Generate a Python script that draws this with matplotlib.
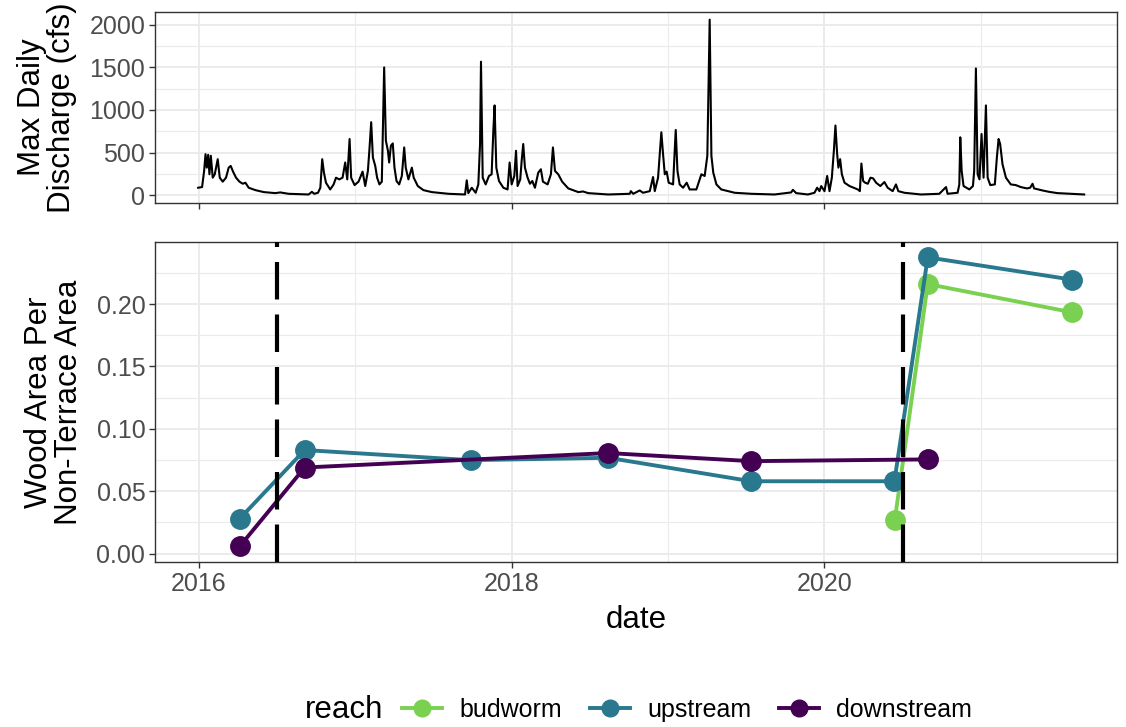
import matplotlib
matplotlib.use("Agg")
import matplotlib.pyplot as plt
from matplotlib.lines import Line2D
from matplotlib.ticker import MultipleLocator

plt.rcParams['font.family'] = ['Liberation Sans', 'DejaVu Sans']

# ---- Discharge (decimal year, cfs) ----
q_year = [2015.996, 2016.021, 2016.034, 2016.043, 2016.051, 2016.060, 2016.068, 2016.077, 2016.089, 2016.102,
          2016.121, 2016.134, 2016.153, 2016.174, 2016.191, 2016.204, 2016.219, 2016.238, 2016.260, 2016.281,
          2016.298, 2016.319, 2016.362, 2016.415, 2016.489, 2016.521, 2016.574, 2016.702, 2016.723, 2016.738,
          2016.762, 2016.777, 2016.789, 2016.800, 2016.813, 2016.840, 2016.862, 2016.877, 2016.898, 2016.919,
          2016.936, 2016.949, 2016.964, 2016.974, 2016.996, 2017.021, 2017.047, 2017.064, 2017.081, 2017.091,
          2017.102, 2017.113, 2017.128, 2017.140, 2017.155, 2017.170, 2017.185, 2017.196, 2017.209, 2017.217,
          2017.228, 2017.240, 2017.251, 2017.264, 2017.281, 2017.298, 2017.313, 2017.323, 2017.340, 2017.362,
          2017.374, 2017.400, 2017.436, 2017.489, 2017.596, 2017.702, 2017.713, 2017.723, 2017.745, 2017.770,
          2017.787, 2017.798, 2017.804, 2017.815, 2017.834, 2017.855, 2017.872, 2017.883, 2017.891, 2017.902,
          2017.919, 2017.947, 2017.974, 2017.987, 2018.000, 2018.017, 2018.028, 2018.038, 2018.055, 2018.064,
          2018.074, 2018.085, 2018.102, 2018.117, 2018.132, 2018.149, 2018.170, 2018.187, 2018.200, 2018.230,
          2018.251, 2018.264, 2018.277, 2018.298, 2018.323, 2018.362, 2018.426, 2018.457, 2018.489, 2018.617,
          2018.755, 2018.762, 2018.777, 2018.819, 2018.840, 2018.883, 2018.904, 2018.915, 2018.936, 2018.957,
          2018.968, 2018.979, 2018.991, 2019.004, 2019.032, 2019.049, 2019.060, 2019.074, 2019.096, 2019.119,
          2019.138, 2019.181, 2019.213, 2019.234, 2019.251, 2019.266, 2019.277, 2019.289, 2019.309, 2019.340,
          2019.426, 2019.532, 2019.681, 2019.787, 2019.798, 2019.819, 2019.894, 2019.936, 2019.953, 2019.968,
          2019.979, 2020.000, 2020.017, 2020.032, 2020.047, 2020.060, 2020.070, 2020.081, 2020.089, 2020.100,
          2020.111, 2020.128, 2020.160, 2020.213, 2020.226, 2020.236, 2020.247, 2020.260, 2020.277, 2020.294,
          2020.311, 2020.330, 2020.357, 2020.383, 2020.404, 2020.436, 2020.457, 2020.472, 2020.511, 2020.617,
          2020.734, 2020.777, 2020.787, 2020.851, 2020.862, 2020.868, 2020.877, 2020.889, 2020.926, 2020.949,
          2020.957, 2020.968, 2020.979, 2020.991, 2021.004, 2021.017, 2021.032, 2021.043, 2021.060, 2021.089,
          2021.102, 2021.113, 2021.123, 2021.138, 2021.160, 2021.191, 2021.223, 2021.255, 2021.294, 2021.315,
          2021.330, 2021.340, 2021.394, 2021.436, 2021.489, 2021.574, 2021.660]
q_cfs = [87, 95, 284, 481, 323, 473, 245, 462, 205, 245,
         422, 205, 158, 205, 323, 343, 276, 205, 158, 134,
         146, 87, 59, 36, 24, 32, 16, 8, 39, 16,
         28, 87, 422, 264, 146, 67, 126, 205, 185, 205,
         383, 185, 659, 205, 118, 158, 276, 107, 284, 540,
         856, 442, 343, 205, 126, 158, 1499, 639, 521, 383,
         580, 607, 323, 166, 126, 225, 560, 323, 185, 323,
         205, 107, 59, 36, 16, 8, 174, 24, 87, 28,
         126, 600, 1566, 205, 126, 225, 245, 757, 1053, 323,
         166, 87, 67, 383, 126, 225, 521, 107, 185, 402,
         600, 323, 205, 134, 166, 87, 264, 304, 158, 126,
         245, 560, 284, 245, 158, 79, 36, 43, 24, 8,
         16, 47, 16, 55, 28, 47, 213, 47, 205, 738,
         481, 245, 276, 146, 126, 765, 284, 126, 87, 146,
         67, 67, 245, 225, 462, 2059, 462, 264, 126, 67,
         28, 16, 8, 32, 63, 24, 8, 28, 87, 47,
         107, 47, 225, 47, 205, 521, 817, 481, 323, 422,
         245, 146, 107, 67, 47, 371, 166, 146, 134, 205,
         197, 146, 107, 154, 87, 47, 126, 47, 28, 8,
         16, 95, 16, 28, 126, 679, 284, 107, 67, 107,
         284, 1487, 245, 185, 718, 205, 1053, 205, 118, 126,
         442, 659, 600, 363, 205, 126, 118, 95, 79, 87,
         134, 79, 55, 39, 24, 16, 8]

# ---- Wood area per non-terrace area ----
reaches = ["budworm", "upstream", "downstream"]
colors = {"budworm": "#7AD151", "upstream": "#2A788E", "downstream": "#440154"}
budworm_x = [2020.45, 2020.66, 2021.585]
budworm_y = [0.0273, 0.216, 0.1933]
upstream_x = [2016.262, 2016.677, 2017.738, 2018.617, 2019.532, 2020.447, 2020.66, 2021.585]
upstream_y = [0.0281, 0.083, 0.0749, 0.0768, 0.058, 0.058, 0.2374, 0.2195]
downstream_x = [2016.262, 2016.677, 2018.617, 2019.532, 2020.66]
downstream_y = [0.0059, 0.069, 0.0806, 0.0741, 0.0755]
series = {"budworm": (budworm_x, budworm_y),
          "upstream": (upstream_x, upstream_y),
          "downstream": (downstream_x, downstream_y)}
event_years = [2016.5, 2020.5]
xticks = [2016, 2018, 2020]

W, H = 1126, 727
fig = plt.figure(figsize=(W / 100, H / 100), dpi=100)

def frac(l, t, r, b):
    return [l / W, 1 - b / H, (r - l) / W, (b - t) / H]

ax1 = fig.add_axes(frac(155, 12, 1117, 203))
ax2 = fig.add_axes(frac(155, 242, 1117, 562))

tick_col = "#4D4D4D"
grid_col = "#EBEBEB"
TICK_FS = 18
TITLE_FS = 22.5
for ax in (ax1, ax2):
    ax.set_facecolor("white")
    for s in ax.spines.values():
        s.set_color("#333333")
        s.set_linewidth(1.0)
    ax.set_axisbelow(True)
    ax.grid(which="major", color=grid_col, lw=1.4)
    ax.grid(which="minor", color=grid_col, lw=0.8)
    ax.tick_params(which="major", length=4, width=1.0, color="#333333",
                   labelsize=TICK_FS, labelcolor=tick_col, pad=3)
    ax.tick_params(which="minor", length=0)
    ax.set_xticks(xticks)
    ax.xaxis.set_minor_locator(MultipleLocator(1))
    ax.set_xlim(2015.72, 2021.87)

# top panel
ax1.plot(q_year, q_cfs, color="black", lw=1.5)
ax1.set_ylim(-92, 2149)
ax1.set_yticks([0, 500, 1000, 1500, 2000])
ax1.yaxis.set_minor_locator(MultipleLocator(250))
ax1.set_xticklabels([])
ax1.set_ylabel("Max Daily\nDischarge (cfs)", fontsize=TITLE_FS, labelpad=9, linespacing=1.0)

# bottom panel
for r in reaches:
    xs, ys = series[r]
    ax2.plot(xs, ys, color=colors[r], lw=2.8, marker="o", ms=14, zorder=3)
for ev in event_years:
    ax2.axvline(ev, color="black", lw=3.0, dashes=(9, 3.6), zorder=4)
ax2.set_ylim(-0.0067, 0.2497)
ax2.set_yticks([0.0, 0.05, 0.10, 0.15, 0.20])
ax2.set_yticklabels(["0.00", "0.05", "0.10", "0.15", "0.20"])
ax2.yaxis.set_minor_locator(MultipleLocator(0.025))
ax2.set_xticklabels([str(x) for x in xticks])
ax2.set_xlabel("date", fontsize=TITLE_FS, labelpad=7)
ax2.set_ylabel("Wood Area Per\nNon-Terrace Area", fontsize=TITLE_FS, labelpad=9, linespacing=1.0)

# legend
handles = [Line2D([0], [0], color=colors[r], lw=2.8, marker="o", ms=12) for r in reaches]
fig.text(305 / W, 1 - 710 / H, "reach", fontsize=TITLE_FS, ha="left", va="center")
leg = fig.legend(handles, reaches, loc="center left", bbox_to_anchor=(402 / W, 1 - 710 / H),
                 ncol=3, frameon=False, fontsize=TICK_FS, handlelength=1.6, columnspacing=1.1,
                 handletextpad=0.7, borderaxespad=0, borderpad=0)

fig.savefig("out.png", dpi=100)
